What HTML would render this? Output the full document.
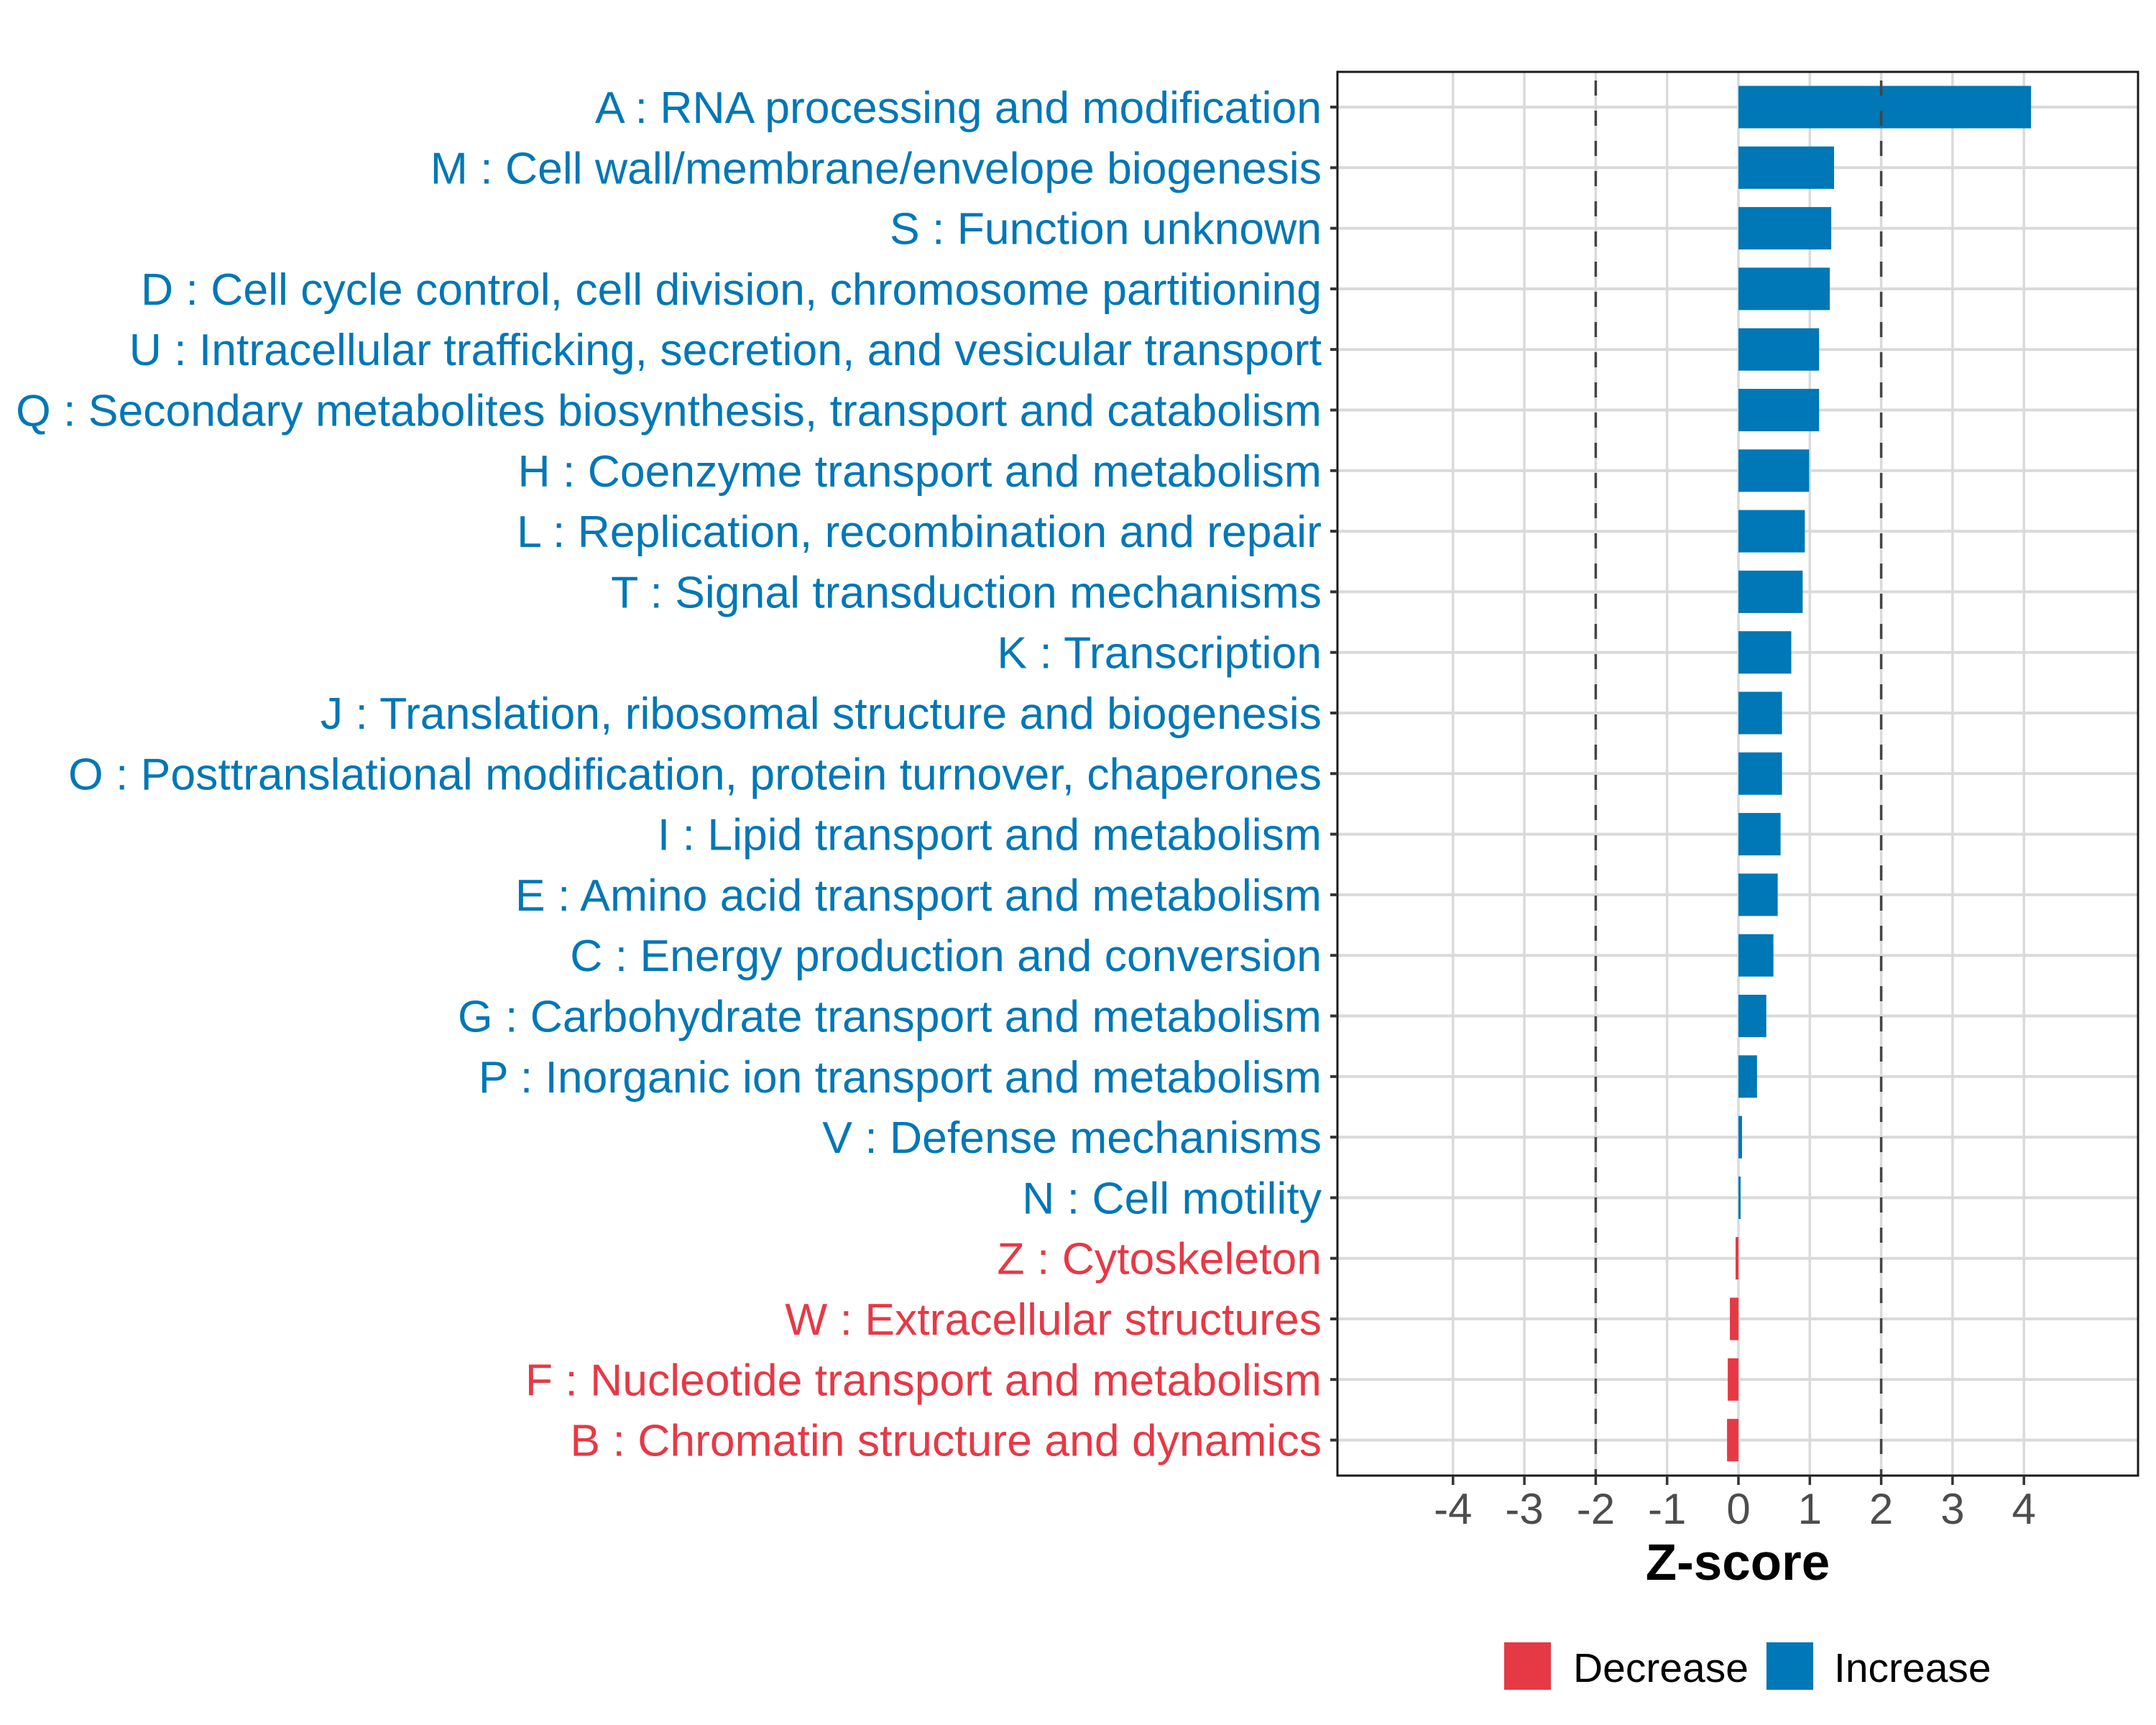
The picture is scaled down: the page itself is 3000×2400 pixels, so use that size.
<!DOCTYPE html>
<html><head><meta charset="utf-8"><style>
html,body{margin:0;padding:0;background:#fff;}
svg{display:block;font-family:"Liberation Sans",Arial,sans-serif;}
</style></head><body>
<svg id="chart" width="3000" height="2400" viewBox="0 0 3000 2400">
<g id="grid"></g>
<g id="bars"></g>
<g id="ylabels"></g>
<g id="xaxis"></g>
<text x="2418" y="2198" text-anchor="middle" font-size="71" font-weight="bold" fill="#000">Z-score</text>
<g>
<rect x="2093" y="2285" width="65" height="66" fill="#e63946"/>
<text x="2189" y="2340" font-size="57" fill="#000">Decrease</text>
<rect x="2458" y="2285" width="65" height="66" fill="#0077b6"/>
<text x="2552" y="2340" font-size="57" fill="#000">Increase</text>
</g>
</svg>
<script>
const categories = ["A : RNA processing and modification","M : Cell wall/membrane/envelope biogenesis","S : Function unknown","D : Cell cycle control, cell division, chromosome partitioning","U : Intracellular trafficking, secretion, and vesicular transport","Q : Secondary metabolites biosynthesis, transport and catabolism","H : Coenzyme transport and metabolism","L : Replication, recombination and repair","T : Signal transduction mechanisms","K : Transcription","J : Translation, ribosomal structure and biogenesis","O : Posttranslational modification, protein turnover, chaperones","I : Lipid transport and metabolism","E : Amino acid transport and metabolism","C : Energy production and conversion","G : Carbohydrate transport and metabolism","P : Inorganic ion transport and metabolism","V : Defense mechanisms","N : Cell motility","Z : Cytoskeleton","W : Extracellular structures","F : Nucleotide transport and metabolism","B : Chromatin structure and dynamics"];
const zscores = [4.10,1.34,1.30,1.28,1.13,1.13,0.99,0.93,0.90,0.74,0.61,0.61,0.59,0.55,0.49,0.39,0.26,0.05,0.03,-0.04,-0.12,-0.15,-0.16];
const xTicks = [-4,-3,-2,-1,0,1,2,3,4];
const xTickLabels = ["-4","-3","-2","-1","0","1","2","3","4"];
const thresholds = [-2,2];

const NS="http://www.w3.org/2000/svg";
const L=1861,R=2975,T=100,B=2053;
const x0=2419, pxPerUnit=99.3;
const xs=v=>x0+v*pxPerUnit;
const rowTop=149, rowStep=84.3;
const ys=i=>rowTop+i*rowStep;
const barH=59;
function mk(tag,attrs,parent){const e=document.createElementNS(NS,tag);for(const k in attrs)e.setAttribute(k,attrs[k]);parent.appendChild(e);return e;}
const grid=document.getElementById('grid'),bars=document.getElementById('bars'),yl=document.getElementById('ylabels'),xa=document.getElementById('xaxis');

xTicks.forEach((t,i)=>{
  const g=mk('line',{x1:xs(t),x2:xs(t),y1:T,y2:B,stroke:'#dadada','stroke-width':3.5},grid);
  
  
  const tk=mk('line',{x1:xs(t),x2:xs(t),y1:B,y2:B+13,stroke:'#333','stroke-width':3.5},xa);
  
  
  const tl=mk('text',{x:xs(t),y:2120,'text-anchor':'middle','font-size':60,fill:'#4d4d4d'},xa);
  tl.textContent=xTickLabels[i];
  
  
});
categories.forEach((c,i)=>{
  const y=ys(i);
  const g=mk('line',{x1:L,x2:R,y1:y,y2:y,stroke:'#dadada','stroke-width':4},grid);
  
  
  const tk=mk('line',{x1:L-10,x2:L,y1:y,y2:y,stroke:'#333','stroke-width':4},yl);
  
  
  const v=zscores[i];
  const col=v<0?'#e63946':'#0077b6';
  const b=mk('rect',{x:Math.min(xs(0),xs(v)),y:y-barH/2,width:Math.abs(xs(v)-xs(0)),height:barH,fill:col},bars);
  
  
  const t=mk('text',{x:1839,y:y+22,'text-anchor':'end','font-size':62.5,fill:col},yl);
  t.textContent=c;
  
  
});
thresholds.forEach(t=>{
  const d=mk('line',{x1:xs(t),x2:xs(t),y1:T,y2:B,stroke:'#444','stroke-width':3.5,'stroke-dasharray':'21 21','stroke-dashoffset':'-12'},bars);
  
  
});
const fr=mk('rect',{x:L,y:T,width:R-L,height:B-T,fill:'none',stroke:'#1a1a1a','stroke-width':3},bars);


</script>
</body></html>
